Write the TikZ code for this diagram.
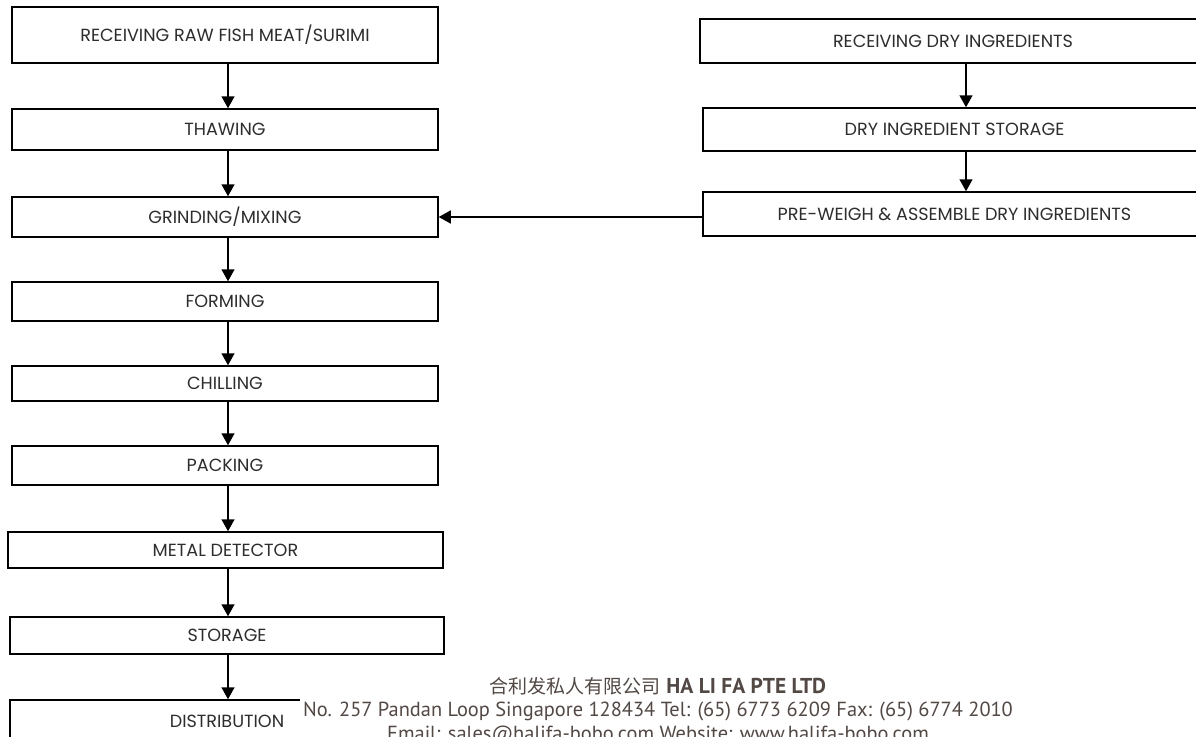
\documentclass[tikz,border=0pt]{standalone}
\usepackage{fontspec}
\setmainfont{Poppins}
\newfontfamily\footfont{PT Sans}
\newfontfamily\cjkfont{Noto Sans CJK SC}
\usetikzlibrary{arrows.meta}
\definecolor{boxtext}{RGB}{45,45,45}
\definecolor{foottext}{RGB}{82,72,68}
\begin{document}
\begin{tikzpicture}[x=1pt,y=-1pt,
  stepbox/.style={draw=black, line width=1.5pt, fill=white, text=boxtext, inner sep=0pt,
    font=\fontsize{17.6}{20}\selectfont},
  foot/.style={text=foottext, anchor=base, inner sep=0pt, font=\footfont\fontsize{20.4}{22}\selectfont},
  arr/.style={line width=1.5pt, -{Triangle[length=12pt,width=13pt]}}]
\useasboundingbox (0,0) rectangle (1196,736);
\begin{scope}
\clip (0,0) rectangle (1196,736);
% left column
\node[stepbox, minimum width=426pt, minimum height=56pt] (recv) at (225,35) {RECEIVING RAW FISH MEAT/SURIMI};
\node[stepbox, minimum width=426pt, minimum height=41pt] (thaw) at (225,129.5) {THAWING};
\node[stepbox, minimum width=426pt, minimum height=40pt] (grind) at (225,217) {GRINDING/MIXING};
\node[stepbox, minimum width=426pt, minimum height=39pt] (form) at (225,301.5) {FORMING};
\node[stepbox, minimum width=426pt, minimum height=35pt] (chill) at (225,383.5) {CHILLING};
\node[stepbox, minimum width=426pt, minimum height=39pt] (pack) at (225,465.5) {PACKING};
\node[stepbox, minimum width=435pt, minimum height=36pt] (metal) at (225.5,550) {METAL DETECTOR};
\node[stepbox, minimum width=434pt, minimum height=37pt] (store) at (227,635.5) {STORAGE};
\node[stepbox, minimum width=434pt, minimum height=60pt] (dist) at (227,730) {};
\node[text=boxtext, font=\fontsize{17.6}{20}\selectfont] (distlabel) at (227,721) {DISTRIBUTION};
% right column
\node[stepbox, minimum width=506pt, minimum height=44pt] (rdry) at (953,41) {RECEIVING DRY INGREDIENTS};
\node[stepbox, minimum width=503pt, minimum height=43pt] (rstore) at (954.5,129.5) {DRY INGREDIENT STORAGE};
\node[stepbox, minimum width=503pt, minimum height=44pt] (rpre) at (954.5,214) {PRE-WEIGH \& ASSEMBLE DRY INGREDIENTS};
% arrows
\draw[arr] (recv.south -| 228,0) -- (thaw.north -| 228,0);
\draw[arr] (thaw.south -| 228,0) -- (grind.north -| 228,0);
\draw[arr] (grind.south -| 228,0) -- (form.north -| 228,0);
\draw[arr] (form.south -| 228,0) -- (chill.north -| 228,0);
\draw[arr] (chill.south -| 228,0) -- (pack.north -| 228,0);
\draw[arr] (pack.south -| 228,0) -- (metal.north -| 228,0);
\draw[arr] (metal.south -| 228,0) -- (store.north -| 228,0);
\draw[arr] (store.south -| 228,0) -- (dist.north -| 228,0);
\draw[arr] (rdry.south -| 966,0) -- (rstore.north -| 966,0);
\draw[arr] (rstore.south -| 966,0) -- (rpre.north -| 966,0);
\draw[arr] (rpre.west |- grind.east) -- (grind.east);
% footer
\fill[white] (300,662) rectangle (1020,750);
\node[foot] (foot1) at (658,693) {{\cjkfont\fontsize{19}{22}\selectfont 合利发私人有限公司} {\fontsize{21.5}{22}\selectfont\textbf{HA LI FA PTE LTD}}};
\node[foot] (foot2) at (658,716.5) {No. 257 Pandan Loop Singapore 128434 Tel: (65) 6773 6209 Fax: (65) 6774 2010};
\node[foot] (foot3) at (658,740) {Email: sales@halifa-bobo.com Website: www.halifa-bobo.com};
\end{scope}
\end{tikzpicture}
\end{document}
